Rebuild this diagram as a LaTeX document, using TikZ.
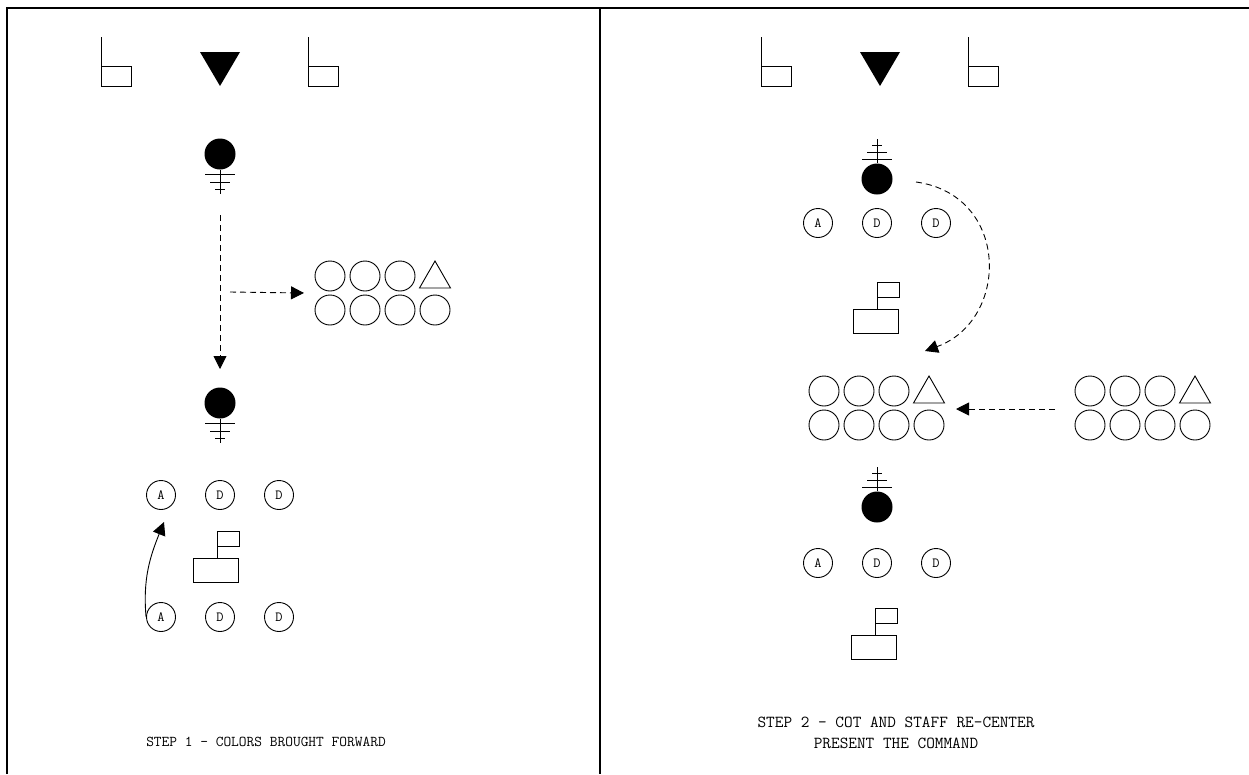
\documentclass[tikz,border=0pt]{standalone}
\usepackage{fontspec}
\usetikzlibrary{arrows.meta}
\tikzset{
  thin line/.style={line width=0.9pt},
  frameline/.style={line width=1.1pt},
  ballnode/.style={circle, fill=black, inner sep=0pt, minimum size=31pt},
  letternode/.style={circle, draw, line width=0.9pt, inner sep=0pt, minimum size=29pt, font=\ttfamily\fontsize{14}{14}\selectfont},
  fcirc/.style={circle, draw, line width=0.9pt, inner sep=0pt, minimum size=30pt},
  dasharrow/.style={line width=0.9pt, dash pattern=on 6pt off 4pt, -{Triangle[length=13pt,width=13pt]}},
  solidarrow/.style={line width=0.9pt, -{Triangle[length=13pt,width=13pt]}},
  caption/.style={font=\ttfamily\fontsize{15}{21}\selectfont, align=center, inner sep=0pt},
  bigcaption/.style={font=\ttfamily\fontsize{16.8}{21}\selectfont, align=center, inner sep=0pt}
}
% flag symbol: pole top at (#1,#2)
\newcommand\guideflag[2]{%
  \draw[thin line] (#1,#2) -- (#1,#2+49) -- (#1+30,#2+49) -- (#1+30,#2+29) -- (#1,#2+29);}
% staff: flag rect left x, flag top y
\newcommand\staffsym[3]{%
  \node[draw, thin line, minimum width=22pt, minimum height=15pt, inner sep=0pt, anchor=north west] (#1flag) at (#2,#3) {};
  \draw[thin line] (#1flag.south west) -- ++(0,12) coordinate (#1pole);
  \node[draw, thin line, minimum width=45pt, minimum height=24pt, inner sep=0pt, anchor=north east] (#1box) at (#2+22,#3+27) {};}
% ball with bars below
\newcommand\balldown[3]{%
  \node[ballnode] (#1) at (#2,#3) {};
  \draw[thin line] (#1.south) -- ++(0,24);
  \draw[thin line] (#2-15,#3+20) -- (#2+15,#3+20);
  \draw[thin line] (#2-10,#3+28) -- (#2+10,#3+28);
  \draw[thin line] (#2-5,#3+35) -- (#2+5,#3+35);}
% ball with bars above
\newcommand\ballup[3]{%
  \node[ballnode] (#1) at (#2,#3) {};
  \draw[thin line] (#1.north) -- ++(0,-24);
  \draw[thin line] (#2-15,#3-20) -- (#2+15,#3-20);
  \draw[thin line] (#2-10,#3-27) -- (#2+10,#3-27);
  \draw[thin line] (#2-5,#3-34) -- (#2+5,#3-34);}
% formation: name, x of first circle, y of first row
\newcommand\formation[3]{%
  \node[fcirc] (#1a) at (#2,#3) {};
  \node[fcirc] (#1b) at (#2+35,#3) {};
  \node[fcirc] (#1c) at (#2+70,#3) {};
  \draw[thin line] (#2+89.5,#3+12) -- (#2+120.5,#3+12) -- (#2+105,#3-15) -- cycle;
  \node[fcirc] (#1e) at (#2,#3+34) {};
  \node[fcirc] (#1f) at (#2+35,#3+34) {};
  \node[fcirc] (#1g) at (#2+70,#3+34) {};
  \node[fcirc] (#1h) at (#2+105,#3+34) {};
  \coordinate (#1west) at (#2-15,#3+17);}
% letters row
\newcommand\letterrow[4]{%
  \node[letternode] (#1a) at (#2,#4) {A};
  \node[letternode] (#1d) at (#2+59,#4) {D};
  \node[letternode] (#1e) at (#3,#4) {D};}
\begin{document}
\begin{tikzpicture}[x=1pt,y=-1pt]
\useasboundingbox (0,0) rectangle (1249,774);
% frame
\draw[frameline] (7,774) -- (7,8) -- (1249,8);
\draw[frameline] (600,8) -- (600,774);

% ---------- STEP 1 ----------
\guideflag{101}{37}
\guideflag{308}{37}
\fill (200,52) -- (240,52) -- (220,86) -- cycle;
\balldown{lb1}{220}{154}
\coordinate (lvstart) at (220,215);
\balldown{lb2}{220}{403}
\coordinate (lvend) at (220,369);
\draw[dasharrow] (lvstart) -- (lvend);
\coordinate (lhstart) at (230,292);
\formation{lf}{330}{276}
\draw[dasharrow] (lhstart) -- (lfwest -| 304,0);
\letterrow{lr1}{161}{279}{495}
\staffsym{ls}{217}{531}
\letterrow{lr2}{161}{279}{617}
\coordinate (curvetip) at (164,522);
\draw[solidarrow] (lr2a.west) to[out=95,in=-112] (curvetip);
\node[caption] (cap1) at (266,742) {STEP 1 - COLORS BROUGHT FORWARD};

% ---------- STEP 2 ----------
\guideflag{761}{37}
\guideflag{968}{37}
\fill (860,52) -- (900,52) -- (880,86) -- cycle;
\ballup{rb1}{877}{179}
\letterrow{rr1}{818}{936}{223}
\staffsym{rs1}{877}{282}
\formation{cf}{824}{391}
\coordinate (cstart) at (916,182);
\coordinate (cend) at (925,351);
\draw[dasharrow] (cstart) .. controls (1010,195) and (1010,320) .. (cend);
\formation{rf}{1090}{391}
\coordinate (rhstart) at (1055,409);
\draw[dasharrow] (rhstart) -- (956,409);
\ballup{rb2}{877}{507}
\letterrow{rr2}{818}{936}{563}
\staffsym{rs2}{875}{608}
\node[bigcaption] (cap2) at (896,733) {STEP 2 - COT AND STAFF RE-CENTER\\PRESENT THE COMMAND};
\end{tikzpicture}
\end{document}
